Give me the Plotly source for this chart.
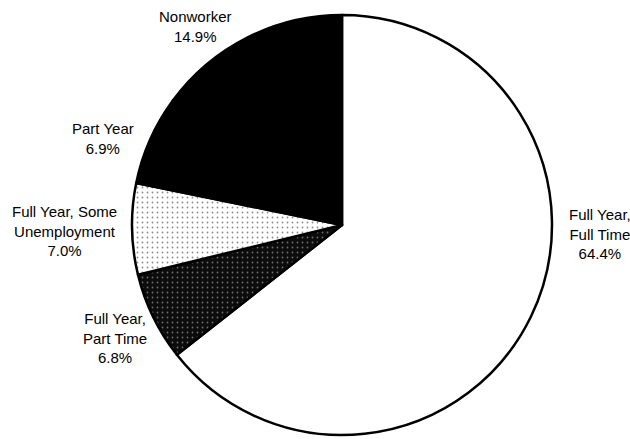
import plotly.graph_objects as go

# Work experience categories, in clockwise order starting at 12 o'clock
categories = [
    "Full Year,\nFull Time",
    "Full Year,\nPart Time",
    "Full Year, Some\nUnemployment",
    "Part Year",
    "Nonworker",
]
shares = [64.4, 6.8, 7.0, 6.9, 14.9]

# Slice styling
slice_colors = ["#ffffff", "#0c0c0c", "#ffffff", "#000000", "#000000"]
pattern_shapes = ["", ".", ".", "", ""]
pattern_fg = ["#ffffff", "#6e6e6e", "#8a8a8a", "#000000", "#000000"]

# Label block centres in pixels (x, y from top) on a 630x439 page
W, H = 630, 439
label_centres = [(600, 234), (115, 338), (64, 231), (103, 138), (195, 26)]

# Pie placement: centre and radius in pixels
cx, cy, r = 342, 225, 210

fig = go.Figure(
    go.Pie(
        labels=[c.replace("\n", " ") for c in categories],
        values=shares,
        sort=False,
        direction="clockwise",
        rotation=0,
        textinfo="none",
        hoverinfo="label+percent",
        marker=dict(
            colors=slice_colors,
            line=dict(color="#000000", width=2.5),
            pattern=dict(
                shape=pattern_shapes,
                fgcolor=pattern_fg,
                bgcolor=slice_colors,
                size=5,
                solidity=0.1,
                fillmode="replace",
            ),
        ),
        domain=dict(
            x=[(cx - r) / W, (cx + r) / W],
            y=[(H - cy - r) / H, (H - cy + r) / H],
        ),
        showlegend=False,
    )
)

annotations = []
for cat, val, (px, py) in zip(categories, shares, label_centres):
    annotations.append(
        dict(
            text=cat.replace("\n", "<br>") + f"<br>{val:.1f}%",
            x=px / W,
            y=1 - py / H,
            xref="paper",
            yref="paper",
            xanchor="center",
            yanchor="middle",
            align="center",
            showarrow=False,
            font=dict(family="Liberation Sans, Arial, sans-serif", size=15, color="#000000"),
        )
    )

fig.update_layout(
    width=W,
    height=H,
    margin=dict(l=0, r=0, t=0, b=0),
    paper_bgcolor="#ffffff",
    plot_bgcolor="#ffffff",
    annotations=annotations,
)

fig.write_html("out.html")
